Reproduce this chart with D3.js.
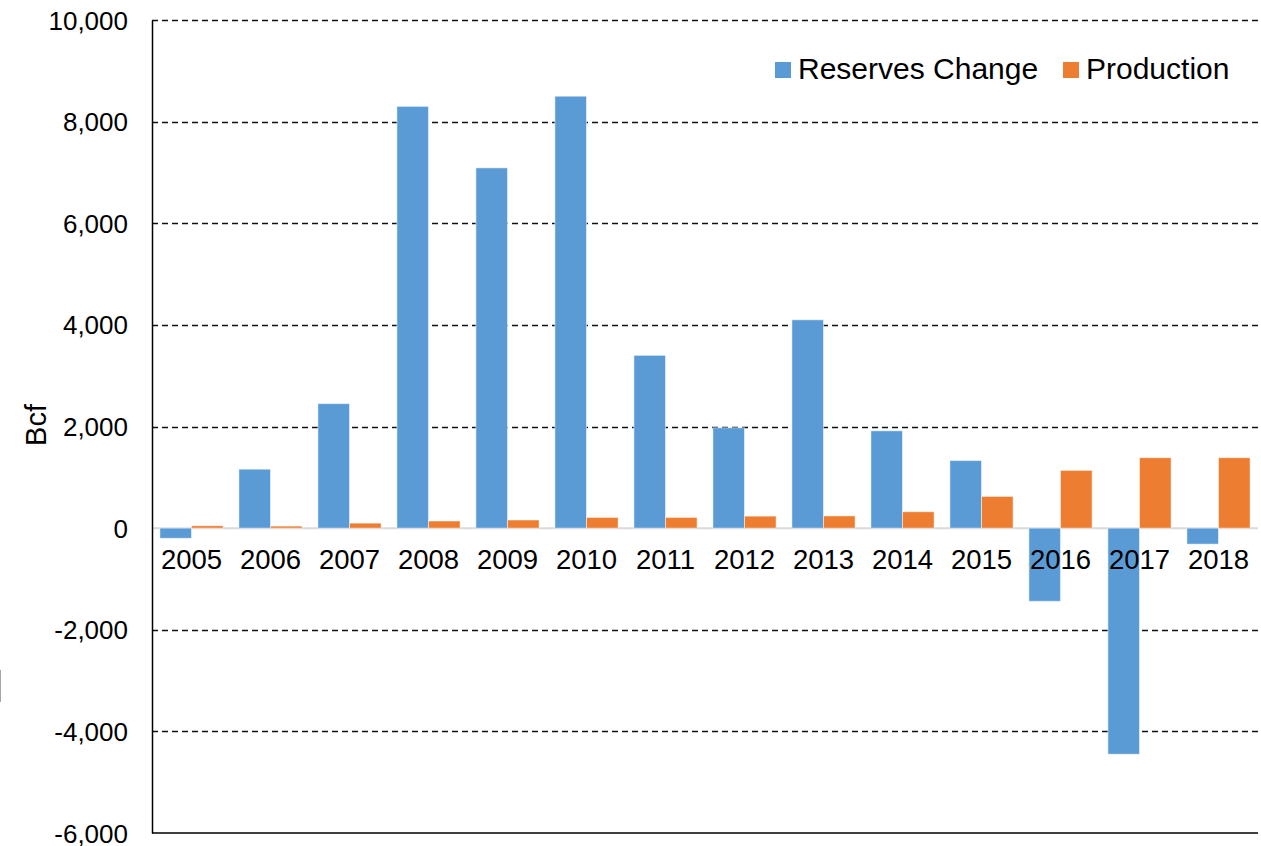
<!DOCTYPE html>
<html>
<head>
<meta charset="utf-8">
<script src="https://cdn.jsdelivr.net/npm/d3@7"></script>
<style>
  body { margin: 0; background: #fff; }
  svg text { font-family: "Liberation Sans", Arial, sans-serif; fill: #000; }
</style>
</head>
<body>
<div id="chart"></div>
<script>
const years = ["2005","2006","2007","2008","2009","2010","2011","2012","2013","2014","2015","2016","2017","2018"];
const reservesChange = [-200, 1160, 2450, 8300, 7090, 8500, 3400, 1975, 4100, 1915, 1330, -1440, -4450, -315];
const production = [47, 40, 98, 140, 160, 210, 210, 236, 240, 322, 624, 1136, 1386, 1386];
const seriesNames = ["Reserves Change", "Production"];
const seriesColors = ["#5b9bd5", "#ed7d31"];
const yTicks = [-6000, -4000, -2000, 0, 2000, 4000, 6000, 8000, 10000];

const W = 1261, H = 846;
const margin = { top: 20, right: 3, bottom: 13, left: 152 };
const width = W - margin.left - margin.right;
const height = H - margin.top - margin.bottom;

const svg = d3.select("#chart").append("svg")
    .attr("width", W)
    .attr("height", H);

// stray mark at left edge of the picture
svg.append("line")
    .attr("x1", 0.5).attr("x2", 0.5)
    .attr("y1", 670).attr("y2", 702)
    .attr("stroke", "#a6a6a6").attr("stroke-width", 1);

const g = svg.append("g")
    .attr("transform", `translate(${margin.left},${margin.top})`);

const y = d3.scaleLinear().domain([-6000, 10000]).range([height, 0]);
const x = d3.scaleBand().domain(years).range([0, width]).paddingInner(0.2).paddingOuter(0.1);
const xSub = d3.scaleBand().domain(seriesNames).range([0, x.bandwidth()]);

// gridlines
g.selectAll(".grid")
    .data(yTicks.filter(t => t !== 0 && t !== -6000))
    .join("line")
    .attr("class", "grid")
    .attr("x1", 0).attr("x2", width)
    .attr("y1", d => Math.round(y(d)) + 0.5)
    .attr("y2", d => Math.round(y(d)) + 0.5)
    .attr("stroke", "#111")
    .attr("stroke-width", 1.5)
    .attr("stroke-dasharray", "6,4");

// bottom line
g.append("line")
    .attr("x1", 0).attr("x2", width)
    .attr("y1", y(-6000)).attr("y2", y(-6000))
    .attr("stroke", "#000").attr("stroke-width", 1.5);

// zero line
g.append("line")
    .attr("x1", 0).attr("x2", width)
    .attr("y1", y(0)).attr("y2", y(0))
    .attr("stroke", "#d9d9d9").attr("stroke-width", 2);

// y axis
const fmt = d3.format(",");
const yAxis = d3.axisLeft(y).tickValues(yTicks).tickSize(0).tickPadding(24)
    .tickFormat(d => fmt(d).replace("\u2212", "-"));
const yAx = g.append("g").call(yAxis);
yAx.select(".domain").attr("stroke", "#000").attr("stroke-width", 1.5);
yAx.selectAll("text")
    .style("font-size", "26px")
    .attr("dy", "0.35em");

// bars
const groups = g.selectAll(".yr")
    .data(years)
    .join("g")
    .attr("class", "yr")
    .attr("transform", d => `translate(${x(d)},0)`);

groups.selectAll("rect")
    .data((d, i) => [
        { s: seriesNames[0], v: reservesChange[i], c: seriesColors[0] },
        { s: seriesNames[1], v: production[i], c: seriesColors[1] }
    ])
    .join("rect")
    .attr("x", d => xSub(d.s))
    .attr("width", xSub.bandwidth())
    .attr("y", d => y(Math.max(0, d.v)))
    .attr("height", d => Math.abs(y(d.v) - y(0)))
    .attr("fill", d => d.c)
    .attr("stroke", "#fff")
    .attr("stroke-opacity", 0.5)
    .attr("stroke-width", 1);

// year labels
g.selectAll(".year")
    .data(years)
    .join("text")
    .attr("class", "year")
    .attr("x", d => x(d) + x.bandwidth() / 2)
    .attr("y", y(0) + 41)
    .attr("text-anchor", "middle")
    .style("font-size", "27.5px")
    .text(d => d);

// y label
svg.append("text")
    .attr("transform", "translate(46,425) rotate(-90)")
    .attr("text-anchor", "middle")
    .style("font-size", "29px")
    .text("Bcf");

// legend
const legend = svg.append("g");
const legendItems = [
    { name: seriesNames[0], color: seriesColors[0], x: 775 },
    { name: seriesNames[1], color: seriesColors[1], x: 1063 }
];
legendItems.forEach(d => {
    legend.append("rect")
        .attr("x", d.x).attr("y", 62)
        .attr("width", 16).attr("height", 16)
        .attr("fill", d.color);
    legend.append("text")
        .attr("x", d.x + 23).attr("y", 79)
        .style("font-size", "30px")
        .text(d.name);
});
</script>
</body>
</html>
